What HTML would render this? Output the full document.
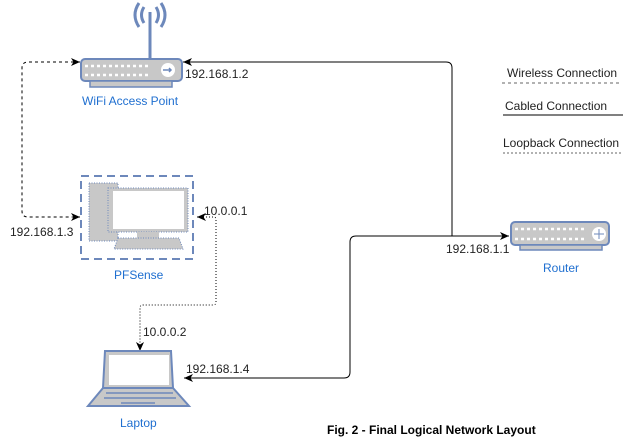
<!DOCTYPE html>
<html><head><style>body{margin:0;background:#fff}svg{display:block}text{font-family:"Liberation Sans",sans-serif;font-size:12px}</style></head><body>
<svg width="629" height="441" viewBox="0 0 629 441" xmlns="http://www.w3.org/2000/svg">
<defs><marker id="a" markerWidth="10" markerHeight="10" refX="9" refY="5" orient="auto" markerUnits="userSpaceOnUse"><path d="M0,1 L9,5 L0,9 L2.5,5z" fill="#000"/></marker></defs>
<path d="M452,236 L452,68 Q452,62 446,62 L183,62" fill="none" stroke="#000" marker-end="url(#a)"/>
<path d="M184,378 L344,378 Q350,378 350,372 L350,242 Q350,236 356,236 L509,236" fill="none" stroke="#000" marker-end="url(#a)"/>
<path d="M190,378 L184,378" stroke="#000" marker-end="url(#a)"/>
<path d="M80,62 L28,62 Q22,62 22,68 L22,211 Q22,217 28,217 L80,217" fill="none" stroke="#000" stroke-dasharray="3,3" marker-end="url(#a)"/>
<path d="M74,62 L80,62" stroke="#000" marker-end="url(#a)"/>
<path d="M197,217 L214,217 Q216,217 216,220 L216,302 Q216,305 213,305 L143,305 Q140,305 140,308 L140,351" fill="none" stroke="#000" stroke-dasharray="1,2" marker-end="url(#a)"/>
<path d="M203,217 L197,217" stroke="#000" marker-end="url(#a)"/>
<line x1="150" y1="12" x2="150" y2="58" stroke="#6d88bb" stroke-width="3"/>
<path d="M144,7 Q139,15 144,23 M156,7 Q161,15 156,23 M139,3 Q131,15 139,27 M161,3 Q169,15 161,27" fill="none" stroke="#6d88bb" stroke-width="3"/>
<rect x="81" y="59" width="101" height="22" rx="4" fill="#c8c8c8" stroke="#6d88bb" stroke-width="2"/>
<rect x="90" y="81" width="82" height="6" fill="#c8c8c8" stroke="#6d88bb" stroke-width="1.5"/>
<circle cx="168" cy="70" r="7" fill="#fff"/><path d="M163,70 H171 M169,68 L171,70 L169,72" stroke="#6d88bb" stroke-width="1.5" fill="none"/>
<path d="M85,66 H150 M85,75 H150" stroke="#fff" stroke-width="2.5" stroke-dasharray="3,3"/>
<text x="82" y="105" fill="#1f6fd0">WiFi Access Point</text>
<text x="185" y="78" fill="#222">192.168.1.2</text>
<rect x="81" y="176" width="112" height="83" fill="none" stroke="#6d88bb" stroke-width="2" stroke-dasharray="8,5"/>
<rect x="89" y="183" width="29" height="58" fill="#c8c8c8" stroke="#6d88bb" stroke-dasharray="1,1.5"/>
<rect x="108" y="188" width="80" height="44" fill="#c8c8c8" stroke="#6d88bb" stroke-dasharray="1,1.5"/>
<rect x="113" y="191" width="71" height="38" fill="#fff"/>
<rect x="137" y="232" width="22" height="6" fill="#c8c8c8"/>
<path d="M118,238 H179 L183,249 H114z" fill="#c8c8c8" stroke="#6d88bb" stroke-dasharray="1,1.5"/>
<text x="114" y="279" fill="#1f6fd0">PFSense</text>
<text x="204" y="215" fill="#222">10.0.0.1</text>
<text x="10" y="236" fill="#222">192.168.1.3</text>
<rect x="511" y="222" width="98" height="23" rx="4" fill="#c8c8c8" stroke="#6d88bb" stroke-width="2"/>
<rect x="520" y="245" width="82" height="5" fill="#c8c8c8" stroke="#6d88bb" stroke-width="1.5"/>
<path d="M515,229 H585 M515,239 H585" stroke="#fff" stroke-width="2.5" stroke-dasharray="3,3"/>
<circle cx="599" cy="234" r="7" fill="#fff"/>
<path d="M599,229 V239 M594,234 H604" stroke="#6d88bb" stroke-width="1"/>
<text x="543" y="272" fill="#1f6fd0">Router</text>
<text x="446" y="253" fill="#222">192.168.1.1</text>
<path d="M105,351 H171 L173,388 H103z" fill="#c8c8c8" stroke="#6d88bb" stroke-width="2"/>
<rect x="109" y="355" width="60" height="30" fill="#fff"/>
<path d="M103,388 H173 L189,406 H88z" fill="#c8c8c8" stroke="#6d88bb" stroke-width="2"/>
<path d="M106,393 H173 M104,398 H176 M121,403 H155" stroke="#6d88bb" stroke-width="1.5"/>
<text x="120" y="427" fill="#1f6fd0">Laptop</text>
<text x="143" y="336" fill="#222">10.0.0.2</text>
<text x="186" y="373" fill="#222">192.168.1.4</text>
<text x="507" y="77" fill="#222">Wireless Connection</text>
<line x1="502" y1="83" x2="620" y2="83" stroke="#666" stroke-dasharray="3,3"/>
<text x="505" y="110" fill="#222">Cabled Connection</text>
<line x1="503" y1="115" x2="623" y2="115" stroke="#000"/>
<text x="503" y="147" fill="#222">Loopback Connection</text>
<line x1="503" y1="153" x2="623" y2="153" stroke="#666" stroke-dasharray="2,2"/>
<text x="327" y="434" font-weight="bold" fill="#000">Fig. 2 - Final Logical Network Layout</text>
</svg>
</body></html>
